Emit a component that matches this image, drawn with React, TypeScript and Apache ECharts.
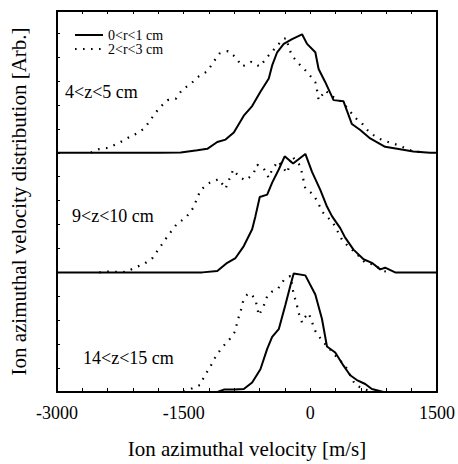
import React, { useEffect, useRef } from "react";
import * as echarts from "echarts";

const FONT = "'Liberation Serif', 'Times New Roman', serif";

// x ticks
const X_MIN = -3000;
const X_MAX = 1500;
const X_MAJOR = 1500;

// Panel labels & offsets (each distribution normalized to 1, stacked)
const panelLabels = ["4<z<5 cm", "9<z<10 cm", "14<z<15 cm"];
const panelOffsets = [2, 1, 0];
const seriesNames = ["0<r<1 cm", "2<r<3 cm"];

// 4<z<5 cm
const topSolid: [number, number][] = [
  [-3000, 0], [-1800, 0], [-1535, 0.003], [-1338, 0.02], [-1220, 0.033], [-1102, 0.09],
  [-1004, 0.11], [-906, 0.17], [-788, 0.31], [-689, 0.39], [-591, 0.51], [-492, 0.62],
  [-452, 0.73], [-393, 0.84], [-315, 0.91], [-216, 0.95], [-98, 0.99], [-39, 0.91],
  [59, 0.84], [98, 0.7], [177, 0.59], [275, 0.44], [393, 0.43], [492, 0.24], [591, 0.19],
  [709, 0.12], [886, 0.05], [1063, 0.03], [1220, 0.01], [1417, 0], [1500, 0],
];
const topDotted: [number, number][] = [
  [-2600, 0], [-2504, 0.03], [-2401, 0.04], [-2264, 0.083], [-2158, 0.125], [-2047, 0.164],
  [-1961, 0.206], [-1878, 0.289], [-1792, 0.372], [-1692, 0.44], [-1594, 0.45], [-1515, 0.53],
  [-1426, 0.57], [-1319, 0.64], [-1220, 0.68], [-1146, 0.76], [-1075, 0.83], [-974, 0.85],
  [-886, 0.8], [-807, 0.72], [-697, 0.76], [-599, 0.72], [-511, 0.8], [-322, 0.95],
  [-283, 0.96], [-256, 0.88], [-216, 0.81], [-130, 0.74], [-32, 0.67], [59, 0.59],
  [79, 0.525], [98, 0.44], [177, 0.52], [260, 0.47], [360, 0.43], [445, 0.37], [520, 0.3],
  [618, 0.24], [700, 0.17], [807, 0.12], [906, 0.094], [1024, 0.067], [1122, 0.04],
  [1220, 0.01], [1319, 0.006],
];

// 9<z<10 cm
const midSolid: [number, number][] = [
  [-3000, 0], [-1279, 0], [-1102, 0.011], [-984, 0.08], [-886, 0.12], [-788, 0.22],
  [-689, 0.36], [-650, 0.47], [-599, 0.63], [-511, 0.65], [-452, 0.75], [-374, 0.86],
  [-304, 0.97], [-204, 0.91], [-59, 0.99], [20, 0.84], [118, 0.69], [197, 0.55],
  [256, 0.47], [354, 0.37], [413, 0.29], [511, 0.19], [630, 0.11], [729, 0.08],
  [827, 0.025], [886, 0.039], [1004, 0], [1500, 0],
];
const midDotted: [number, number][] = [
  [-2500, 0], [-2401, 0.006], [-2185, 0.003], [-2079, 0.04], [-1969, 0.07], [-1870, 0.12],
  [-1772, 0.22], [-1693, 0.3], [-1575, 0.41], [-1476, 0.455], [-1386, 0.54], [-1299, 0.69],
  [-1189, 0.75], [-1083, 0.78], [-1004, 0.7], [-913, 0.86], [-847, 0.8], [-768, 0.77],
  [-677, 0.82], [-630, 0.9], [-552, 0.87], [-492, 0.79], [-452, 0.86], [-381, 0.93],
  [-275, 0.83], [-216, 0.97], [-118, 0.89], [-59, 0.7], [39, 0.65], [150, 0.5],
  [268, 0.415], [374, 0.275], [445, 0.22], [543, 0.16], [650, 0.08], [748, 0.067],
  [866, 0.011], [950, 0],
];

// 14<z<15 cm
const botSolid: [number, number][] = [
  [-3000, 0], [-1100, 0], [-1024, 0.02], [-900, 0.02], [-788, 0.025], [-689, 0.08],
  [-591, 0.19], [-511, 0.36], [-452, 0.46], [-374, 0.525], [-295, 0.73], [-236, 0.89],
  [-197, 0.99], [-59, 0.975], [59, 0.815], [138, 0.61], [197, 0.38], [295, 0.33],
  [393, 0.22], [472, 0.14], [551, 0.1], [650, 0.067], [729, 0.025], [866, 0], [1500, 0],
];
const botDotted: [number, number][] = [
  [-1500, 0], [-1417, 0.025], [-1307, 0.058], [-1252, 0.136], [-1189, 0.206], [-1134, 0.28],
  [-1055, 0.365], [-957, 0.44], [-886, 0.51], [-866, 0.59], [-827, 0.67], [-800, 0.75],
  [-748, 0.815], [-709, 0.825], [-650, 0.775], [-610, 0.64], [-552, 0.72], [-511, 0.8],
  [-452, 0.84], [-381, 0.865], [-315, 0.935], [-236, 0.97], [-197, 0.815], [-165, 0.745],
  [-138, 0.66], [-98, 0.58], [-71, 0.62], [-20, 0.66], [59, 0.51], [138, 0.43],
  [216, 0.37], [315, 0.29], [413, 0.22], [531, 0.06], [630, 0.025], [750, 0],
];

const solidSets = [topSolid, midSolid, botSolid];
const dottedSets = [topDotted, midDotted, botDotted];

export default function App() {
  const ref = useRef<HTMLDivElement>(null);
  useEffect(() => {
    if (!ref.current) return;
    const chart = echarts.init(ref.current, undefined, { renderer: "svg" });
    const series: any[] = [];
    solidSets.forEach((set, i) => {
      series.push({
        name: seriesNames[0],
        type: "line",
        symbol: "none",
        showSymbol: false,
        data: set.map(([v, y]) => [v, y + panelOffsets[i]]),
        lineStyle: { color: "#000", width: 2, type: "solid" },
        itemStyle: { color: "#000" },
        z: 3,
      });
    });
    dottedSets.forEach((set, i) => {
      series.push({
        name: seriesNames[1],
        type: "line",
        symbol: "none",
        showSymbol: false,
        data: set.map(([v, y]) => [v, y + panelOffsets[i]]),
        lineStyle: { color: "#000", width: 2.2, type: [1.6, 6.4] },
        itemStyle: { color: "#000" },
        z: 2,
      });
    });

    const labelPos = [
      { left: 65, top: 83 },
      { left: 72, top: 207 },
      { left: 83, top: 349 },
    ];

    const frameLine = { show: true, onZero: false, lineStyle: { color: "#000", width: 2 } };

    chart.setOption({
      animation: false,
      backgroundColor: "#fff",
      textStyle: { fontFamily: FONT, color: "#000" },
      grid: { left: 56, right: 21, top: 11, bottom: 71 },
      legend: {
        data: seriesNames,
        orient: "vertical",
        left: 69,
        top: 23,
        itemWidth: 28,
        itemHeight: 14,
        itemGap: 0,
        selectedMode: false,
        itemStyle: { opacity: 0, borderWidth: 0 },
        textStyle: { fontFamily: FONT, fontSize: 14, color: "#000", padding: [0, 0, 5, 0] },
      },
      xAxis: [
        {
          type: "value",
          min: X_MIN,
          max: X_MAX,
          interval: X_MAJOR,
          name: "Ion azimuthal velocity [m/s]",
          nameLocation: "middle",
          nameGap: 46,
          nameTextStyle: { fontFamily: FONT, fontSize: 21, color: "#000" },
          axisLine: frameLine,
          axisTick: { show: true, inside: true, length: 4, lineStyle: { color: "#000", width: 1 } },
          minorTick: { show: true, splitNumber: 5, length: 4, lineStyle: { color: "#000", width: 1 } },
          axisLabel: {
            fontFamily: FONT,
            fontSize: 18,
            color: "#000",
            margin: 12,
            formatter: (v: number) => String(v),
          },
          splitLine: { show: false },
          minorSplitLine: { show: false },
        },
        {
          type: "value",
          position: "top",
          min: X_MIN,
          max: X_MAX,
          interval: X_MAJOR,
          axisLine: frameLine,
          axisTick: { show: true, inside: true, length: 3, lineStyle: { color: "#000", width: 1 } },
          minorTick: { show: true, splitNumber: 5, length: 3, lineStyle: { color: "#000", width: 1 } },
          axisLabel: { show: false },
          splitLine: { show: false },
        },
      ],
      yAxis: [
        {
          type: "value",
          min: 0,
          max: 3.185,
          interval: 0.2,
          name: "Ion azimuthal velocity distribution [Arb.]",
          nameLocation: "middle",
          nameGap: 28,
          nameTextStyle: { fontFamily: FONT, fontSize: 21, color: "#000" },
          axisLine: frameLine,
          axisTick: { show: true, inside: true, length: 3, lineStyle: { color: "#000", width: 1 } },
          axisLabel: { show: false },
          splitLine: { show: false },
        },
        {
          type: "value",
          position: "right",
          min: 0,
          max: 3.185,
          axisLine: frameLine,
          axisTick: { show: false },
          axisLabel: { show: false },
          splitLine: { show: false },
        },
      ],
      graphic: panelLabels.map((t, i) => ({
        type: "text",
        left: labelPos[i].left,
        top: labelPos[i].top,
        style: { text: t, fontFamily: FONT, fontSize: 18, fill: "#000" },
      })),
      series,
    });
    return () => chart.dispose();
  }, []);
  return (
    <div
      ref={ref}
      style={{ position: "absolute", left: 0, top: 0, width: 458, height: 464 }}
    />
  );
}
